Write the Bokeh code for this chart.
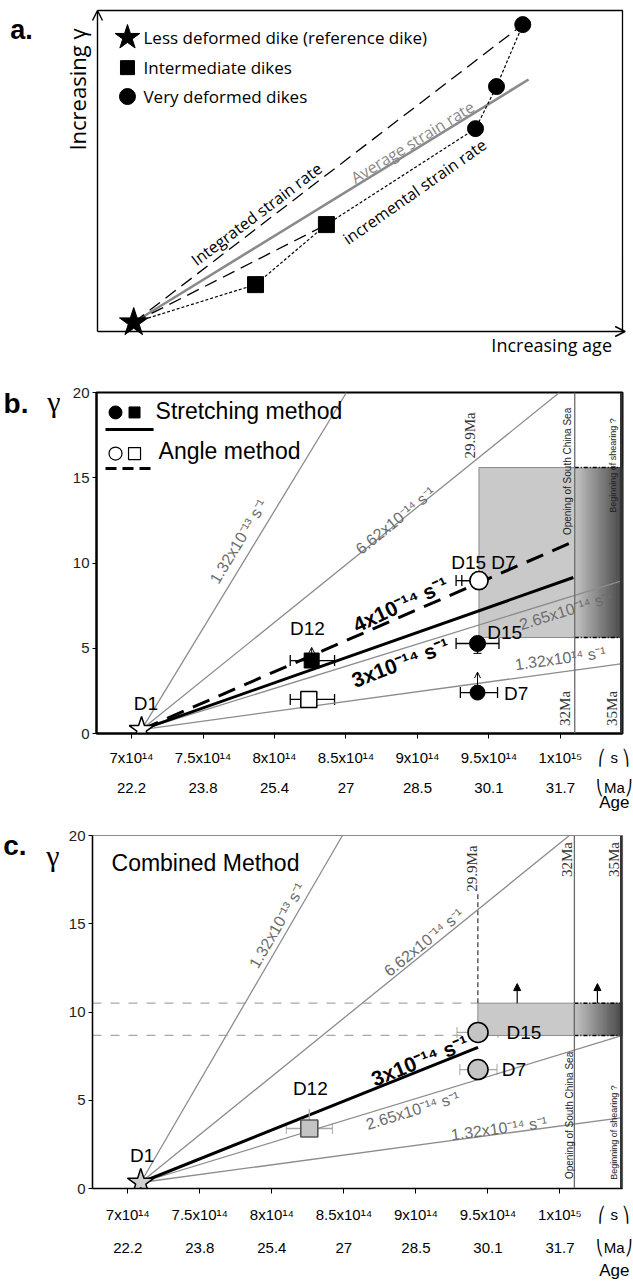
import numpy as np
from bokeh.plotting import figure
from bokeh.layouts import column, row
from bokeh.models import (Label, Span, Arrow, OpenHead, NormalHead, Whisker,
                          ColumnDataSource, FixedTicker, LinearAxis, Range1d)
from bokeh.embed import file_html
from bokeh.resources import INLINE

SANS = "Liberation Sans"
SERIF = "Liberation Serif"
HUM = "Open Sans"
GREY_LINE = "#8c8c8c"
GREY_TEXT = "#6c6c6c"

# ================= DATA =================
# ---- panel a (schematic, arbitrary units 0-100) ----
a_ref_x = [6.9]
a_ref_y = [2.8]
a_int_x = [30.1, 43.6]
a_int_y = [14.6, 33.3]
a_def_x = [72.0, 76.0, 81.0]
a_def_y = [63.2, 76.3, 95.6]
a_avg_end_x = [82.1]
a_avg_end_y = [78.5]
a_legend_text = ["Less deformed dike (reference dike)", "Intermediate dikes", "Very deformed dikes"]

# ---- shared age / gamma axes (b, c) ----
age_ticks_s = [7.0e14, 7.5e14, 8.0e14, 8.5e14, 9.0e14, 9.5e14, 1.0e15]
age_tick_s_labels = ["7x10¹⁴", "7.5x10¹⁴", "8x10¹⁴", "8.5x10¹⁴", "9x10¹⁴", "9.5x10¹⁴", "1x10¹⁵"]
age_tick_ma_labels = ["22.2", "23.8", "25.4", "27", "28.5", "30.1", "31.7"]
unit_tick = 10.377e14
unit_s_label, unit_ma_label, unit_title = "⎛ s ⎞", "⎝Ma⎠", "Age"
gamma_ticks = [0, 5, 10, 15, 20]
age_min, age_max = 6.755e14, 1.0434e15
gamma_min, gamma_max = 0.0, 20.0
age_29_9ma = 9.43e14
age_32ma = 1.01e15
age_35ma = 1.0434e15

# ---- panel b ----
b_d1_x, b_d1_y = [7.07e14], [0.23]
b_rate_text = ["1.32x10⁻¹³ s⁻¹", "6.62x10⁻¹⁴ s⁻¹", "2.65x10⁻¹⁴ s⁻¹", "1.32x10¹⁴ s⁻¹"]
b_rate_end_x = [8.503e14, 9.993e14, 1.0434e15, 1.0434e15]
b_rate_end_y = [20.0, 20.0, 8.97, 4.10]
b_str_name = ["D12", "D15", "D7"]
b_str_x = [8.26e14, 9.42e14, 9.42e14]
b_str_y = [4.28, 5.28, 2.40]
b_str_xlo = [8.11e14, 9.27e14, 9.30e14]
b_str_xhi = [8.42e14, 9.57e14, 9.56e14]
b_str_marker = ["square", "circle", "circle"]
b_ang_name = ["D12", "D15", "D7"]
b_ang_x = [8.24e14, 9.43e14, 9.43e14]
b_ang_y = [2.0, 8.97, 8.97]
b_ang_xlo = [8.11e14, 9.27e14, 9.31e14]
b_ang_xhi = [8.42e14, 9.545e14, 9.58e14]
b_ang_marker = ["square", "circle", "circle"]
b_str_fit_text = "3x10⁻¹⁴ s⁻¹"
b_str_fit_end_x, b_str_fit_end_y = [1.009e15], [9.15]
b_ang_fit_text = "4x10⁻¹⁴ s⁻¹"
b_ang_fit_end_x, b_ang_fit_end_y = [1.006e15], [11.14]
b_band_lo, b_band_hi = 5.63, 15.6
b_lower_bound_x = [8.26e14, 9.42e14]       # D12, D7 (stretching) minimum arrows
b_lower_bound_y = [5.05, 3.60]
b_d15_err_low = 4.7

# ---- panel c ----
c_d1_x, c_d1_y = [7.09e14], [0.34]
c_rate_text = ["1.32x10⁻¹³ s⁻¹", "6.62x10⁻¹⁴ s⁻¹", "2.65x10⁻¹⁴ s⁻¹", "1.32x10⁻¹⁴ s⁻¹"]
c_rate_end_x = [8.49e14, 10.065e14, 1.0434e15, 1.0434e15]
c_rate_end_y = [20.0, 20.0, 8.67, 4.02]
c_name = ["D12", "D15", "D7"]
c_x = [8.26e14, 9.431e14, 9.431e14]
c_y = [3.40, 8.84, 6.74]
c_xlo = [8.10e14, 9.285e14, 9.305e14]
c_xhi = [8.42e14, 9.57e14, 9.563e14]
c_marker = ["square", "circle", "circle"]
c_fit_text = "3x10⁻¹⁴ s⁻¹"
c_fit_end_x, c_fit_end_y = [9.431e14], [7.99]
c_band_lo, c_band_hi = 8.67, 10.5
c_band_arrow_top = 11.61
c_band_arrow_x = [9.703e14, 10.26e14]
c_d12_err_hi = 4.5

# ================= HELPERS =================
def lab(p, x, y, text, size, color="black", font=SANS, style="normal", angle=0.0,
        align="center", baseline="middle"):
    p.add_layout(Label(x=x, y=y, text=text, text_font=font, text_font_size=f"{size}px",
                       text_color=color, text_font_style=style, angle=np.deg2rad(angle),
                       text_align=align, text_baseline=baseline))


def text_axis(ticks, labels, standoff, size, font=SANS, style="normal"):
    return LinearAxis(ticker=FixedTicker(ticks=ticks),
                      major_label_overrides=dict(zip(ticks, labels)),
                      axis_line_color=None, major_tick_line_color=None,
                      minor_tick_line_color=None, major_tick_out=0, major_tick_in=0,
                      minor_tick_out=0, minor_tick_in=0, major_label_standoff=standoff,
                      major_label_text_font=font, major_label_text_font_size=f"{size}px",
                      major_label_text_font_style=style, major_label_text_color="black")


def age_fig(height, b_top, b_bottom, b_left, stand, panel_letter, letter_y, gamma_y, left_stand):
    p = figure(width=633, height=height, x_range=Range1d(age_min, age_max),
               y_range=Range1d(gamma_min, gamma_max), toolbar_location=None,
               output_backend="svg", title=None,
               min_border_left=b_left, min_border_right=11,
               min_border_top=b_top, min_border_bottom=b_bottom)
    p.grid.visible = False
    xa = p.xaxis[0]
    xa.ticker = FixedTicker(ticks=age_ticks_s)
    xa.major_label_overrides = {t: " " for t in age_ticks_s}
    xa.major_label_text_font_size = "1px"
    xa.major_label_standoff = 0
    xa.major_tick_out = 5
    xa.major_tick_in = 0
    xa.minor_tick_out = 0
    xa.minor_tick_in = 0
    xa.axis_line_width = 2
    p.add_layout(text_axis(age_ticks_s + [unit_tick], age_tick_s_labels + [unit_s_label], stand[0], 15), "below")
    p.add_layout(text_axis(age_ticks_s + [unit_tick], age_tick_ma_labels + [unit_ma_label], stand[1], 15), "below")
    p.add_layout(text_axis([unit_tick], [unit_title], stand[2], 17), "below")
    ya = p.yaxis[0]
    ya.ticker = FixedTicker(ticks=gamma_ticks)
    ya.major_label_text_font = SANS
    ya.major_label_text_font_size = "15px"
    ya.major_label_text_color = "#222"
    ya.major_tick_out = 4
    ya.major_tick_in = 0
    ya.minor_tick_out = 0
    ya.minor_tick_in = 0
    ya.major_label_standoff = 3
    ya.axis_line_width = 2
    # gamma symbol and panel letter, left of the gamma axis
    p.add_layout(text_axis([gamma_y], ["γ"], left_stand[0], 30, font=SERIF), "left")
    p.add_layout(text_axis([letter_y], [panel_letter], left_stand[1], 28, style="bold"), "left")
    return p


def gradient_band(p, lo, hi):
    n = 26
    edges = np.linspace(age_32ma, age_max, n + 1)
    vals = np.linspace(195, 75, n).astype(int)
    cols = [f"#{v:02x}{v:02x}{v:02x}" for v in vals]
    p.quad(left=edges[:-1], right=edges[1:], bottom=lo, top=hi,
           fill_color=cols, line_color=cols, line_width=1)
    for yy in (lo, hi):
        p.line([age_32ma, age_max], [yy, yy], line_color="black", line_width=1.6,
               line_dash="4 2 1 2")


def rate_lines(p, x0, y0, ex, ey):
    for xe, ye in zip(ex, ey):
        p.line([x0, xe], [y0, ye], line_color=GREY_LINE, line_width=1.3)


# ================= PANEL A =================
pa = figure(width=633, height=358, x_range=Range1d(-18.476, 102.095), y_range=Range1d(-8.411, 103.115),
            x_axis_type=None, y_axis_type=None, toolbar_location=None,
            output_backend="svg", title=None,
            min_border_left=0, min_border_right=0, min_border_top=0, min_border_bottom=0)
pa.outline_line_color = None
pa.grid.visible = False

pa.line([0, 100, 100], [100, 100, 0], line_color="black", line_width=1.3)
pa.add_layout(Arrow(x_start=0, y_start=0, x_end=0, y_end=100, line_width=1.4,
                    end=OpenHead(size=10, line_width=1.4)))
pa.add_layout(Arrow(x_start=0, y_start=0, x_end=100.5, y_end=0, line_width=1.4,
                    end=OpenHead(size=10, line_width=1.4)))

pa.line([a_ref_x[0], a_avg_end_x[0]], [a_ref_y[0], a_avg_end_y[0]], line_color="#8a8a8a", line_width=2.6)
for tx, ty in [(a_int_x[1], a_int_y[1]), (a_def_x[2], a_def_y[2])]:
    pa.line([a_ref_x[0], tx], [a_ref_y[0], ty], line_color="black", line_width=1.3, line_dash="13 7")
path_x = a_ref_x + a_int_x + a_def_x
path_y = a_ref_y + a_int_y + a_def_y
pa.line(path_x, path_y, line_color="black", line_width=1.2, line_dash="3 2")
pa.scatter(a_int_x, a_int_y, marker="square", size=16, color="black")
pa.scatter(a_def_x, a_def_y, marker="circle", size=16, color="black")
pa.scatter(a_ref_x, a_ref_y, marker="star", size=30, color="black")

leg_y = [91.6, 82.2, 73.2]
pa.scatter([5.71], [leg_y[0]], marker="star", size=26, color="black")
pa.scatter([5.71], [leg_y[1]], marker="square", size=14, color="black")
pa.scatter([5.71], [leg_y[2]], marker="circle", size=16, color="black")
for t, yy in zip(a_legend_text, leg_y):
    lab(pa, 8.76, yy, t, 17, font=HUM, align="left")

lab(pa, 30.3, 36.6, "Integrated strain rate", 16, font=HUM, angle=37)
lab(pa, 60.0, 59.0, "Average strain rate", 16, color="#8a8a8a", font=HUM, angle=31.6)
lab(pa, 60.4, 43.6, "incremental strain rate", 16, font=HUM, angle=35)
lab(pa, -3.9, 75.4, "Increasing γ", 22, font=HUM, angle=90)
lab(pa, 98.0, -4.1, "Increasing age", 18, font=HUM, align="right")
lab(pa, -16.6, 93.8, "a.", 27, style="bold", baseline="alphabetic", align="left")

# ================= PANEL B =================
pb = age_fig(457, 34, 82, 88, (6, 10, -6), "b.", 19.35, 19.47, (9, 16))
pb.outline_line_color = "black"
pb.outline_line_width = 2

pb.quad(left=[age_29_9ma], right=[age_32ma], bottom=[b_band_lo], top=[b_band_hi],
        fill_color="#c9c9c9", line_color="#8c8c8c", line_width=1)
gradient_band(pb, b_band_lo, b_band_hi)
pb.add_layout(Span(location=age_32ma, dimension="height", line_color="#6a6a6a", line_width=1.3))
pb.add_layout(Span(location=age_35ma, dimension="height", line_color="#333333", line_width=5))

rate_lines(pb, b_d1_x[0], b_d1_y[0], b_rate_end_x, b_rate_end_y)
pb.line([b_d1_x[0], b_ang_fit_end_x[0]], [b_d1_y[0], b_ang_fit_end_y[0]], line_color="black",
        line_width=3, line_dash="18 10")
pb.line([b_d1_x[0], b_str_fit_end_x[0]], [b_d1_y[0], b_str_fit_end_y[0]], line_color="black",
        line_width=3)

src_bs = ColumnDataSource(dict(b=b_str_y, lo=b_str_xlo, hi=b_str_xhi))
src_ba = ColumnDataSource(dict(b=b_ang_y, lo=b_ang_xlo, hi=b_ang_xhi))
for src in (src_bs, src_ba):
    w = Whisker(source=src, base="b", lower="lo", upper="hi", dimension="width",
                line_color="black", line_width=1.3)
    w.upper_head.size = 11
    w.lower_head.size = 11
    w.upper_head.line_width = 1.3
    w.lower_head.line_width = 1.3
    pb.add_layout(w)
src_v = ColumnDataSource(dict(b=[b_str_x[1]], lo=[b_d15_err_low], hi=[b_str_y[1]]))
wv = Whisker(source=src_v, base="b", lower="lo", upper="hi", dimension="height",
             line_color="black", line_width=1.3)
wv.lower_head.size = 8
wv.upper_head.size = 1
pb.add_layout(wv)
for lx, ly, sy in zip(b_lower_bound_x, b_lower_bound_y, [b_str_y[0], b_str_y[2]]):
    pb.add_layout(Arrow(x_start=lx, y_start=sy, x_end=lx, y_end=ly, line_width=1,
                        end=OpenHead(size=6, line_width=1)))

pb.scatter(b_ang_x, b_ang_y, marker=b_ang_marker, size=[16, 18, 18], fill_color="white",
           line_color="black", line_width=1.5)
pb.scatter(b_str_x, b_str_y, marker=b_str_marker, size=[15, 16, 15], color="black")
pb.scatter(b_d1_x, b_d1_y, marker="star", size=26, fill_color="white", line_color="black",
           line_width=1.5)

lab(pb, 7.10e14, 1.76, "D1", 19)
lab(pb, 8.23e14, 6.16, "D12", 19)
lab(pb, 9.461e14, 10.03, "D15 D7", 19)
lab(pb, 9.61e14, 5.92, "D15", 19)
lab(pb, 9.69e14, 2.35, "D7", 19)
b_rate_pos = [(7.748e14, 11.26, 58.7), (8.846e14, 12.49, 38.9), (10.04e14, 7.21, 17.2), (10.0e14, 4.40, 7.8)]
for t, (lx, ly, ang) in zip(b_rate_text, b_rate_pos):
    lab(pb, lx, ly, t, 16, color=GREY_TEXT, angle=ang)
lab(pb, 8.881e14, 7.57, b_ang_fit_text, 21, style="bold", angle=25)
lab(pb, 8.881e14, 4.16, b_str_fit_text, 21, style="bold", angle=21)
lab(pb, 9.37e14, 17.48, "29.9Ma", 15, color="#333", font=SERIF, angle=90)
lab(pb, 10.049e14, 15.37, "Opening of South China Sea", 10, color="#222", angle=90)
lab(pb, 10.37e14, 15.72, "Beginning of shearing ?", 9, color="#222", angle=90)
lab(pb, 10.035e14, 1.47, "32Ma", 15, color="#333", font=SERIF, angle=90)
lab(pb, 10.363e14, 1.47, "35Ma", 15, color="#333", font=SERIF, angle=90)

pb.scatter([6.888e14], [18.83], marker="circle", size=13, color="black")
pb.scatter([7.021e14], [18.83], marker="square", size=11, color="black")
pb.line([6.818e14, 7.154e14], [17.83, 17.83], line_color="black", line_width=3)
pb.scatter([6.888e14], [16.42], marker="circle", size=13, fill_color="white", line_color="black", line_width=1.2)
pb.scatter([7.021e14], [16.42], marker="square", size=12, fill_color="white", line_color="black", line_width=1.2)
pb.line([6.818e14, 7.154e14], [15.54, 15.54], line_color="black", line_width=3, line_dash="11 6")
lab(pb, 7.168e14, 18.94, "Stretching method", 23, align="left")
lab(pb, 7.189e14, 16.54, "Angle method", 23, align="left")

# ================= PANEL C =================
pc = age_fig(467, 20, 94, 86, (8, 13, 2), "c.", 19.43, 18.87, (6, 17))
pc.outline_line_color = "#8a8a8a"
pc.outline_line_width = 1.2
pc.xaxis[0].axis_line_width = 1.5
pc.yaxis[0].axis_line_width = 1.5

pc.quad(left=[age_29_9ma], right=[age_32ma], bottom=[c_band_lo], top=[c_band_hi],
        fill_color="#c9c9c9", line_color="#8c8c8c", line_width=1)
gradient_band(pc, c_band_lo, c_band_hi)
for yy in (c_band_lo, c_band_hi):
    pc.line([age_min, age_29_9ma], [yy, yy], line_color="#a8a8a8", line_width=1.3, line_dash="9 9")
pc.line([age_29_9ma, age_29_9ma], [c_band_hi, 16.77], line_color="#444", line_width=1.3, line_dash="5 3")
pc.add_layout(Span(location=age_32ma, dimension="height", line_color="#6a6a6a", line_width=1.3))
pc.add_layout(Span(location=age_35ma, dimension="height", line_color="#333333", line_width=5))
for ax_ in c_band_arrow_x:
    pc.add_layout(Arrow(x_start=ax_, y_start=c_band_hi, x_end=ax_, y_end=c_band_arrow_top,
                        line_width=1.2, end=NormalHead(size=7, fill_color="black", line_width=1)))

rate_lines(pc, c_d1_x[0], c_d1_y[0], c_rate_end_x, c_rate_end_y)
pc.line([c_d1_x[0], c_fit_end_x[0]], [c_d1_y[0], c_fit_end_y[0]], line_color="black", line_width=3)

src_c = ColumnDataSource(dict(b=c_y, lo=c_xlo, hi=c_xhi))
wc = Whisker(source=src_c, base="b", lower="lo", upper="hi", dimension="width",
             line_color="#a8a8a8", line_width=1.3)
wc.upper_head.size = 11
wc.lower_head.size = 11
wc.upper_head.line_color = "#a8a8a8"
wc.lower_head.line_color = "#a8a8a8"
pc.add_layout(wc)
pc.line([c_x[0], c_x[0]], [c_y[0], c_d12_err_hi], line_color="#a8a8a8", line_width=1.3)

pc.scatter(c_x, c_y, marker=c_marker, size=[17, 20, 20], fill_color="#c4c4c4",
           line_color=["#555", "black", "black"], line_width=1.6)
pc.scatter(c_d1_x, c_d1_y, marker="star", size=28, fill_color="#cfcfcf", line_color="black",
           line_width=1.5)

lab(pc, 7.10e14, 1.87, "D1", 19)
lab(pc, 8.267e14, 5.67, "D12", 19)
lab(pc, 9.75e14, 8.84, "D15", 19)
lab(pc, 9.68e14, 6.74, "D7", 19)
c_rate_pos = [(8.037e14, 14.9, 59.9), (9.055e14, 13.94, 39.1), (8.978e14, 4.42, 17.0), (9.577e14, 3.40, 7.7)]
for t, (lx, ly, ang) in zip(c_rate_text, c_rate_pos):
    lab(pc, lx, ly, t, 16, color=GREY_TEXT, angle=ang)
lab(pc, 9.027e14, 7.25, c_fit_text, 21, style="bold", angle=21.9)
lab(pc, 6.887e14, 18.47, "Combined Method", 23, align="left")
lab(pc, 9.389e14, 18.13, "29.9Ma", 15, color="#333", font=SERIF, angle=90)
lab(pc, 10.051e14, 18.64, "32Ma", 15, color="#333", font=SERIF, angle=90)
lab(pc, 10.376e14, 18.64, "35Ma", 15, color="#333", font=SERIF, angle=90)
lab(pc, 10.065e14, 4.14, "Opening of South China Sea", 10, color="#222", angle=90)
lab(pc, 10.376e14, 3.17, "Beginning of shearing ?", 9, color="#222", angle=90)

layout = column(row(pa), row(pb), row(pc))
open("out.html", "w").write(file_html(layout, INLINE))
